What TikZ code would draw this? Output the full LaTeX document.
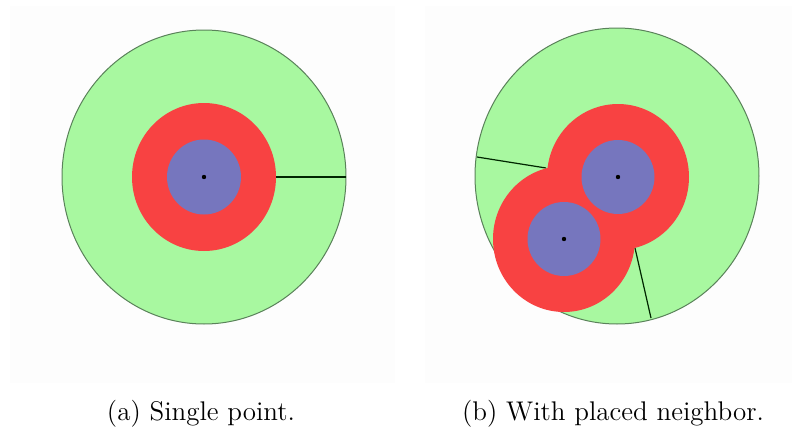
\documentclass[tikz,border=0pt]{standalone}
\usepackage{xcolor}
\definecolor{zgreen}{RGB}{168,248,160}
\definecolor{zred}{RGB}{248,66,66}
\definecolor{zblue}{RGB}{118,118,190}
\definecolor{zedge}{RGB}{90,130,90}
\definecolor{zpanel}{RGB}{253,253,253}
\begin{document}
\begin{tikzpicture}[x=0.5pt,y=-0.5pt,
  outer/.style={fill=zgreen,draw=zedge,line width=0.5pt},
  ring/.style={fill=zred},
  core/.style={fill=zblue},
  split/.style={draw=black!85!green,line width=0.6pt},
  pt/.style={fill=black},
  panel/.style={fill=zpanel},
  captext/.style={font=\fontsize{13.5}{16}\selectfont}]
\useasboundingbox (0,0) rectangle (800,434);
\fill[panel] (10,6) rectangle (395,383);
\fill[panel] (425,6) rectangle (792,383);
% (a)
\coordinate (ca) at (204,177);
\fill[outer] (ca) ellipse [x radius=142, y radius=147];
\draw[split] (276,177) coordinate (la1) -- (346,177) coordinate (la2);
\fill[ring] (ca) ellipse [x radius=72, y radius=74];
\fill[core] (ca) ellipse [x radius=37, y radius=37.5];
\fill[pt] (ca) circle (2.2);
% (b)
\coordinate (cb) at (617,176);
\coordinate (p1) at (618,177);
\coordinate (p2) at (564,239);
\fill[outer] (cb) ellipse [x radius=142, y radius=148];
\coordinate (n1) at (546,168);
\coordinate (e1) at (477,157);
\coordinate (n2) at (635,248);
\coordinate (e2) at (651,318);
\draw[split] (e1) -- (n1);
\draw[split] (n2) -- (e2);
\fill[ring] (p1) ellipse [x radius=71, y radius=73];
\fill[ring] (p2) ellipse [x radius=71, y radius=73];
\fill[core] (p1) ellipse [x radius=36.5, y radius=37];
\fill[core] (p2) ellipse [x radius=36.5, y radius=37];
\fill[pt] (p1) circle (2.2);
\fill[pt] (p2) circle (2.2);
% captions
\node[captext] (capa) at (201,414) {(a) Single point.};
\node[captext] (capb) at (613,414) {(b) With placed neighbor.};
\end{tikzpicture}
\end{document}
